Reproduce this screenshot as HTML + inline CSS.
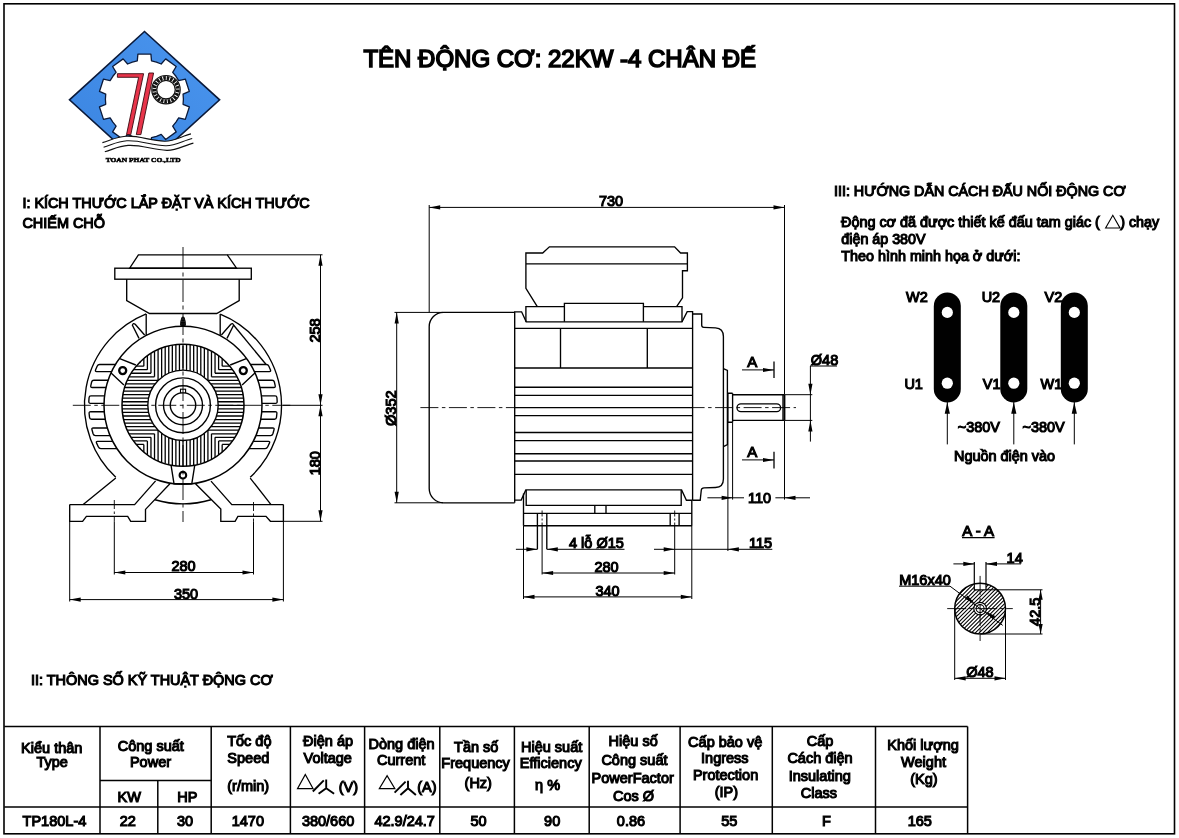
<!DOCTYPE html>
<html><head><meta charset="utf-8"><title>TP180L-4</title>
<style>
html,body{margin:0;padding:0;background:#fff;}
body{width:1179px;height:838px;overflow:hidden;font-family:"Liberation Sans",sans-serif;}
svg{display:block;will-change:transform;opacity:0.999}
svg text{font-family:"Liberation Sans",sans-serif;fill:#000;}
</style></head><body>
<svg width="1179" height="838" viewBox="0 0 1179 838" stroke="#000" fill="none" stroke-linecap="butt">
<rect x="0" y="0" width="1179" height="838" fill="#fff" stroke="none"/>
<rect x="4.0" y="3.8" width="1170.5" height="830" stroke-width="1.6" fill="none"/>
<text x="363.4" y="66.6" font-size="24" text-anchor="start" stroke="#000" stroke-width="1.6" >TÊN ĐỘNG CƠ: 22KW -4 CHÂN ĐẾ</text>
<text x="22.4" y="208" font-size="14.4" text-anchor="start" stroke="#000" stroke-width="1.1" >I: KÍCH THƯỚC LẮP ĐẶT VÀ KÍCH THƯỚC</text>
<text x="22.4" y="227.6" font-size="14.45" text-anchor="start" stroke="#000" stroke-width="1.1" >CHIẾM CHỖ</text>
<text x="31" y="685.4" font-size="14.45" text-anchor="start" stroke="#000" stroke-width="1.1" >II: THÔNG SỐ KỸ THUẬT ĐỘNG CƠ</text>
<text x="834.0" y="196.3" font-size="14.3" text-anchor="start" stroke="#000" stroke-width="1.1" >III: HƯỚNG DẪN CÁCH ĐẤU NỐI ĐỘNG CƠ</text>
<text x="841.0" y="227.4" font-size="14.4" text-anchor="start" stroke="#000" stroke-width="1.1" >Động cơ đã được thiết kế đấu tam giác (</text>
<text x="1120.2" y="227.4" font-size="14.3" text-anchor="start" stroke="#000" stroke-width="1.1" >) chạy</text>
<path d="M1105.6,228 L1112.8,215.3 L1120,228 Z" stroke-width="1.15" fill="none" />
<text x="841.3" y="243.5" font-size="14.3" text-anchor="start" stroke="#000" stroke-width="1.1" >điện áp 380V</text>
<text x="841.3" y="261.2" font-size="14.35" text-anchor="start" stroke="#000" stroke-width="1.1" >Theo hình minh họa ở dưới:</text>
<line x1="4.3" y1="726.5" x2="967.6" y2="726.5" stroke-width="1.5" />
<line x1="4.3" y1="807.1" x2="967.6" y2="807.1" stroke-width="1.5" />
<line x1="100" y1="780.4" x2="211.2" y2="780.4" stroke-width="1.5" />
<line x1="100" y1="726.5" x2="100" y2="833.8" stroke-width="1.5" />
<line x1="157.8" y1="780.4" x2="157.8" y2="833.8" stroke-width="1.5" />
<line x1="211.2" y1="726.5" x2="211.2" y2="833.8" stroke-width="1.5" />
<line x1="290.4" y1="726.5" x2="290.4" y2="833.8" stroke-width="1.5" />
<line x1="364.6" y1="726.5" x2="364.6" y2="833.8" stroke-width="1.5" />
<line x1="439.8" y1="726.5" x2="439.8" y2="833.8" stroke-width="1.5" />
<line x1="514.4" y1="726.5" x2="514.4" y2="833.8" stroke-width="1.5" />
<line x1="589.2" y1="726.5" x2="589.2" y2="833.8" stroke-width="1.5" />
<line x1="680.1" y1="726.5" x2="680.1" y2="833.8" stroke-width="1.5" />
<line x1="772.3" y1="726.5" x2="772.3" y2="833.8" stroke-width="1.5" />
<line x1="875.5" y1="726.5" x2="875.5" y2="833.8" stroke-width="1.5" />
<line x1="967.6" y1="726.5" x2="967.6" y2="833.8" stroke-width="1.5" />
<text x="51.75" y="752.7" font-size="14.5" text-anchor="middle" stroke="#000" stroke-width="1.1" >Kiểu thân</text>
<text x="52.15" y="767.2" font-size="14.5" text-anchor="middle" stroke="#000" stroke-width="1.1" >Type</text>
<text x="150.75" y="751.4" font-size="14.5" text-anchor="middle" stroke="#000" stroke-width="1.1" >Công suất</text>
<text x="150.5" y="767.2" font-size="14.5" text-anchor="middle" stroke="#000" stroke-width="1.1" >Power</text>
<text x="129.15" y="802" font-size="14.5" text-anchor="middle" stroke="#000" stroke-width="1.1" >KW</text>
<text x="187.3" y="802" font-size="14.5" text-anchor="middle" stroke="#000" stroke-width="1.1" >HP</text>
<text x="249.35" y="745.5" font-size="14.5" text-anchor="middle" stroke="#000" stroke-width="1.1" >Tốc độ</text>
<text x="248.3" y="763.3" font-size="14.5" text-anchor="middle" stroke="#000" stroke-width="1.1" >Speed</text>
<text x="248.2" y="791.3" font-size="14.5" text-anchor="middle" stroke="#000" stroke-width="1.1" >(r/min)</text>
<text x="328.1" y="746.3" font-size="14.5" text-anchor="middle" stroke="#000" stroke-width="1.1" >Điện áp</text>
<text x="327.75" y="763.1" font-size="14.5" text-anchor="middle" stroke="#000" stroke-width="1.1" >Voltage</text>
<text x="401.5" y="748.8" font-size="14.5" text-anchor="middle" stroke="#000" stroke-width="1.1" >Dòng điện</text>
<text x="401.15" y="764.9" font-size="14.5" text-anchor="middle" stroke="#000" stroke-width="1.1" >Current</text>
<text x="476.25" y="751.7" font-size="14.5" text-anchor="middle" stroke="#000" stroke-width="1.1" >Tần số</text>
<text x="475.6" y="768.4" font-size="14.5" text-anchor="middle" stroke="#000" stroke-width="1.1" >Frequency</text>
<text x="478.25" y="788" font-size="14.5" text-anchor="middle" stroke="#000" stroke-width="1.1" >(Hz)</text>
<text x="551.65" y="751.7" font-size="14.5" text-anchor="middle" stroke="#000" stroke-width="1.1" >Hiệu suất</text>
<text x="550.75" y="768.4" font-size="14.5" text-anchor="middle" stroke="#000" stroke-width="1.1" >Efficiency</text>
<text x="547.55" y="789.8" font-size="14.5" text-anchor="middle" stroke="#000" stroke-width="1.1" >η %</text>
<text x="633.2" y="746.3" font-size="14.5" text-anchor="middle" stroke="#000" stroke-width="1.1" >Hiệu số</text>
<text x="634.45" y="764.9" font-size="14.5" text-anchor="middle" stroke="#000" stroke-width="1.1" >Công suất</text>
<text x="632.7" y="783.4" font-size="14.5" text-anchor="middle" stroke="#000" stroke-width="1.1" >PowerFactor</text>
<text x="633.55" y="800.5" font-size="14.5" text-anchor="middle" stroke="#000" stroke-width="1.1" >Cos Ø</text>
<text x="725.2" y="746.7" font-size="14.5" text-anchor="middle" stroke="#000" stroke-width="1.1" >Cấp bảo vệ</text>
<text x="724.85" y="762.6" font-size="14.5" text-anchor="middle" stroke="#000" stroke-width="1.1" >Ingress</text>
<text x="725.6" y="779.9" font-size="14.5" text-anchor="middle" stroke="#000" stroke-width="1.1" >Protection</text>
<text x="726.35" y="797.2" font-size="14.5" text-anchor="middle" stroke="#000" stroke-width="1.1" >(IP)</text>
<text x="820.05" y="746.1" font-size="14.5" text-anchor="middle" stroke="#000" stroke-width="1.1" >Cấp</text>
<text x="820.05" y="763.4" font-size="14.5" text-anchor="middle" stroke="#000" stroke-width="1.1" >Cách điện</text>
<text x="819.75" y="780.7" font-size="14.5" text-anchor="middle" stroke="#000" stroke-width="1.1" >Insulating</text>
<text x="818.9" y="798" font-size="14.5" text-anchor="middle" stroke="#000" stroke-width="1.1" >Class</text>
<text x="923.1" y="750.2" font-size="14.5" text-anchor="middle" stroke="#000" stroke-width="1.1" >Khối lượng</text>
<text x="923.55" y="766.9" font-size="14.5" text-anchor="middle" stroke="#000" stroke-width="1.1" >Weight</text>
<text x="923.85" y="784.2" font-size="14.5" text-anchor="middle" stroke="#000" stroke-width="1.1" >(Kg)</text>
<path d="M297.6,788.5 L305.3,774.5 L313.0,788.5 Z" stroke-width="1.25" fill="none" />
<line x1="312.8" y1="791.5" x2="323.8" y2="780.4" stroke-width="1.9" />
<path d="M326.20000000000005,779.5999999999999 L326.20000000000005,788.5 M326.20000000000005,788.2 L318.6,793.8 M326.20000000000005,788.2 L334.1,793.8" stroke-width="1.9" fill="none" />
<text x="348.3" y="792.2" font-size="14.5" text-anchor="middle" stroke="#000" stroke-width="1.1" >(V)</text>
<path d="M379.4,788.5 L387.09999999999997,775.8 L394.79999999999995,788.5 Z" stroke-width="1.25" fill="none" />
<line x1="394.59999999999997" y1="792.7" x2="405.59999999999997" y2="781.6" stroke-width="1.9" />
<path d="M408.0,780.8 L408.0,788.5 M408.0,788.2 L400.4,795 M408.0,788.2 L415.9,795" stroke-width="1.9" fill="none" />
<text x="426.8" y="791.7" font-size="14.5" text-anchor="middle" stroke="#000" stroke-width="1.1" >(A)</text>
<text x="54.45" y="826.4" font-size="14.5" text-anchor="middle" stroke="#000" stroke-width="1.1" >TP180L-4</text>
<text x="127.85" y="826.4" font-size="14.5" text-anchor="middle" stroke="#000" stroke-width="1.1" >22</text>
<text x="185.1" y="826.4" font-size="14.5" text-anchor="middle" stroke="#000" stroke-width="1.1" >30</text>
<text x="247.85" y="826.4" font-size="14.5" text-anchor="middle" stroke="#000" stroke-width="1.1" >1470</text>
<text x="328.1" y="826.4" font-size="14.5" text-anchor="middle" stroke="#000" stroke-width="1.1" >380/660</text>
<text x="404.7" y="826.4" font-size="14.5" text-anchor="middle" stroke="#000" stroke-width="1.1" >42.9/24.7</text>
<text x="478.6" y="826.4" font-size="14.5" text-anchor="middle" stroke="#000" stroke-width="1.1" >50</text>
<text x="552.15" y="826.4" font-size="14.5" text-anchor="middle" stroke="#000" stroke-width="1.1" >90</text>
<text x="630.95" y="826.4" font-size="14.5" text-anchor="middle" stroke="#000" stroke-width="1.1" >0.86</text>
<text x="729.2" y="826.4" font-size="14.5" text-anchor="middle" stroke="#000" stroke-width="1.1" >55</text>
<text x="826.5" y="826.4" font-size="14.5" text-anchor="middle" stroke="#000" stroke-width="1.1" >F</text>
<text x="919.8" y="826.4" font-size="14.5" text-anchor="middle" stroke="#000" stroke-width="1.1" >165</text>
<path d="M138.4,254.8 L227.3,254.8 L236.6,268.2 L129.6,268.2 Z" stroke-width="1.35" fill="none" />
<rect x="114.8" y="268.2" width="136.5" height="11" stroke-width="1.35"/>
<path d="M126.7,279.2 L126.7,300.6 L149.5,313.5 L216.7,313.5 L239.2,300.6 L239.2,279.2" stroke-width="1.35" fill="none" />
<path d="M146.2,314 L146.2,335.39 M220.2,314 L220.2,335.39" stroke-width="1.35" fill="none" />
<path d="M146.20,313.93 A98.5,98.5 0 0 0 115.80,477.32" stroke-width="1.35" fill="none" />
<path d="M220.20,314.09 A98.5,98.5 0 0 1 250.20,477.32" stroke-width="1.35" fill="none" />
<path d="M155.00,499.74 A98.5,98.5 0 0 0 211.00,499.74" stroke-width="1.35" fill="none" />
<circle cx="183.0" cy="405.3" r="79.0" stroke-width="1.5" fill="none" />
<path d="M140.28,361.76 L140.28,362.58 M140.28,448.02 L140.28,448.84 M139.46,362.58 L140.28,362.58 M225.72,362.58 L226.54,362.58 M143.84,358.53 L143.84,366.14 M143.84,444.46 L143.84,452.07 M136.23,366.14 L143.84,366.14 M222.16,366.14 L229.77,366.14 M147.40,355.77 L147.40,369.70 M147.40,440.90 L147.40,454.83 M133.47,369.70 L147.40,369.70 M218.60,369.70 L232.53,369.70 M150.96,353.39 L150.96,373.26 M150.96,437.34 L150.96,457.21 M131.09,373.26 L150.96,373.26 M215.04,373.26 L234.91,373.26 M154.52,351.36 L154.52,376.82 M154.52,433.78 L154.52,459.24 M129.06,376.82 L154.52,376.82 M211.48,376.82 L236.94,376.82 M158.08,349.62 L158.08,380.38 M158.08,430.22 L158.08,460.98 M127.32,380.38 L158.08,380.38 M207.92,380.38 L238.68,380.38 M161.64,348.16 L161.64,377.32 M161.64,433.28 L161.64,462.44 M125.86,383.94 L155.02,383.94 M210.98,383.94 L240.14,383.94 M165.20,346.95 L165.20,374.93 M165.20,435.67 L165.20,463.65 M124.65,387.50 L152.63,387.50 M213.37,387.50 L241.35,387.50 M168.76,345.99 L168.76,373.11 M168.76,437.49 L168.76,464.61 M123.69,391.06 L150.81,391.06 M215.19,391.06 L242.31,391.06 M172.32,345.24 L172.32,371.76 M172.32,438.84 L172.32,465.36 M122.94,394.62 L149.46,394.62 M216.54,394.62 L243.06,394.62 M175.88,344.72 L175.88,370.83 M175.88,439.77 L175.88,465.88 M122.42,398.18 L148.53,398.18 M217.47,398.18 L243.58,398.18 M179.44,344.40 L179.44,370.28 M179.44,440.32 L179.44,466.20 M122.10,401.74 L147.98,401.74 M218.02,401.74 L243.90,401.74 M183.00,344.30 L183.00,370.10 M183.00,440.50 L183.00,466.30 M122.00,405.30 L147.80,405.30 M218.20,405.30 L244.00,405.30 M186.56,344.40 L186.56,370.28 M186.56,440.32 L186.56,466.20 M122.10,408.86 L147.98,408.86 M218.02,408.86 L243.90,408.86 M190.12,344.72 L190.12,370.83 M190.12,439.77 L190.12,465.88 M122.42,412.42 L148.53,412.42 M217.47,412.42 L243.58,412.42 M193.68,345.24 L193.68,371.76 M193.68,438.84 L193.68,465.36 M122.94,415.98 L149.46,415.98 M216.54,415.98 L243.06,415.98 M197.24,345.99 L197.24,373.11 M197.24,437.49 L197.24,464.61 M123.69,419.54 L150.81,419.54 M215.19,419.54 L242.31,419.54 M200.80,346.95 L200.80,374.93 M200.80,435.67 L200.80,463.65 M124.65,423.10 L152.63,423.10 M213.37,423.10 L241.35,423.10 M204.36,348.16 L204.36,377.32 M204.36,433.28 L204.36,462.44 M125.86,426.66 L155.02,426.66 M210.98,426.66 L240.14,426.66 M207.92,349.62 L207.92,380.38 M207.92,430.22 L207.92,460.98 M127.32,430.22 L158.08,430.22 M207.92,430.22 L238.68,430.22 M211.48,351.36 L211.48,376.82 M211.48,433.78 L211.48,459.24 M129.06,433.78 L154.52,433.78 M211.48,433.78 L236.94,433.78 M215.04,353.39 L215.04,373.26 M215.04,437.34 L215.04,457.21 M131.09,437.34 L150.96,437.34 M215.04,437.34 L234.91,437.34 M218.60,355.77 L218.60,369.70 M218.60,440.90 L218.60,454.83 M133.47,440.90 L147.40,440.90 M218.60,440.90 L232.53,440.90 M222.16,358.53 L222.16,366.14 M222.16,444.46 L222.16,452.07 M136.23,444.46 L143.84,444.46 M222.16,444.46 L229.77,444.46 M225.72,361.76 L225.72,362.58 M225.72,448.02 L225.72,448.84 M139.46,448.02 L140.28,448.02 M225.72,448.02 L226.54,448.02" stroke-width="1.3" fill="none" />
<circle cx="183.0" cy="405.3" r="61.0" stroke-width="1.5" fill="none" />
<circle cx="183.0" cy="405.3" r="35.2" stroke-width="1.4" fill="none" />
<circle cx="183.0" cy="405.3" r="27.4" stroke-width="1.4" fill="none" />
<circle cx="183.0" cy="405.3" r="19.5" stroke-width="1.4" fill="none" />
<circle cx="183.0" cy="405.3" r="12.7" stroke-width="1.4" fill="none" />
<rect x="180.5" y="389.2" width="5.1" height="3.6" stroke-width="1.1" fill="#fff"/>
<path d="M119.70,358.7 L135.80,365 M110.80,372.8 L123.90,384.9" stroke-width="1.35" fill="none" />
<circle cx="122.7" cy="370.6" r="3.5" stroke-width="2.3" fill="none" />
<path d="M144.60,335.0 L135.20,324.3 Q133.20,322.6 132.40,325.2 L139.00,338.4" stroke-width="1.35" fill="none" />
<path d="M115.35,364.5 L99.68,364.5 Q97.88,364.5 97.12,366.30 L95.61,369.80 Q94.86,371.6 96.66,371.6 L111.55,371.6" stroke-width="1.35" fill="none" />
<path d="M108.09,380.2 L93.86,380.2 Q92.06,380.2 91.64,382.00 L90.80,385.70 Q90.38,387.5 92.18,387.5 L106.03,387.5" stroke-width="1.35" fill="none" />
<path d="M104.56,395.9 L90.96,395.9 Q89.16,395.9 89.05,397.70 L88.83,401.50 Q88.72,403.3 90.52,403.3 L104.03,403.3" stroke-width="1.35" fill="none" />
<path d="M104.26,411.7 L90.72,411.7 Q88.92,411.7 89.12,413.50 L89.52,417.40 Q89.72,419.2 91.52,419.2 L105.23,419.2" stroke-width="1.35" fill="none" />
<path d="M107.33,428.0 L93.24,428.0 Q91.44,428.0 91.99,429.80 L93.09,433.80 Q93.65,435.6 95.45,435.6 L110.04,435.6" stroke-width="1.35" fill="none" />
<path d="M112.68,441.3 L97.56,441.3 Q95.76,441.3 96.60,443.10 L98.27,446.80 Q99.10,448.6 100.90,448.6 L116.92,448.6" stroke-width="1.35" fill="none" />
<path d="M246.30,358.7 L230.20,365 M255.20,372.8 L242.10,384.9" stroke-width="1.35" fill="none" />
<circle cx="243.3" cy="370.6" r="3.5" stroke-width="2.3" fill="none" />
<path d="M221.40,335.0 L230.80,324.3 Q232.80,322.6 233.60,325.2 L227.00,338.4" stroke-width="1.35" fill="none" />
<path d="M250.65,364.5 L266.32,364.5 Q268.12,364.5 268.88,366.30 L270.39,369.80 Q271.14,371.6 269.34,371.6 L254.45,371.6" stroke-width="1.35" fill="none" />
<path d="M257.91,380.2 L272.14,380.2 Q273.94,380.2 274.36,382.00 L275.20,385.70 Q275.62,387.5 273.82,387.5 L259.97,387.5" stroke-width="1.35" fill="none" />
<path d="M261.44,395.9 L275.04,395.9 Q276.84,395.9 276.95,397.70 L277.17,401.50 Q277.28,403.3 275.48,403.3 L261.97,403.3" stroke-width="1.35" fill="none" />
<path d="M261.74,411.7 L275.28,411.7 Q277.08,411.7 276.88,413.50 L276.48,417.40 Q276.28,419.2 274.48,419.2 L260.77,419.2" stroke-width="1.35" fill="none" />
<path d="M258.67,428.0 L272.76,428.0 Q274.56,428.0 274.01,429.80 L272.91,433.80 Q272.35,435.6 270.55,435.6 L255.96,435.6" stroke-width="1.35" fill="none" />
<path d="M253.32,441.3 L268.44,441.3 Q270.24,441.3 269.40,443.10 L267.73,446.80 Q266.90,448.6 265.10,448.6 L249.08,448.6" stroke-width="1.35" fill="none" />
<path d="M233.5,325 L265.9,364.3" stroke-width="1.35" fill="none" />
<path d="M180.6,325.4 L180.9,321 L182,317.2 L184,317.2 L185.1,321 L185.4,325.4 Z M180.8,322.6 L185.2,322.6 M180.7,324 L185.3,324 M181.3,320.4 L184.7,320.4" stroke-width="1.0" fill="#333" />
<path d="M171,464.9 L174,483.7 L191.8,483.7 L194.8,464.9" stroke-width="1.35" fill="none" />
<circle cx="182.9" cy="475.2" r="3.3" stroke-width="2.1" fill="none" />
<path d="M115.8,477.9 L83.2,504.6 M69.7,504.6 L134.6,504.6 L155.6,480.9 M169.9,483.8 L145.5,509.4 L145.5,521.3 L130.7,521.3 L127.7,516.3 L86.4,516.3 L82.6,521.3 L69.7,521.3 L69.7,504.6" stroke-width="1.35" fill="none" />
<path d="M250.2,478.1 L271,504.6 M283.4,504.6 L231.8,504.6 L211,481.1 M195.5,483.8 L220.8,509 L220.8,521.3 L235.1,521.3 L237.9,516.3 L266,516.3 L270.4,521.3 L283.4,521.3 L283.4,504.6" stroke-width="1.35" fill="none" />
<line x1="72.8" y1="405.3" x2="292" y2="405.3" stroke-width="0.9" stroke-dasharray="18 3.5 3.5 3.5"/>
<line x1="283" y1="405.3" x2="322.5" y2="405.3" stroke-width="1.0" />
<line x1="183" y1="247" x2="183" y2="522" stroke-width="0.9" stroke-dasharray="22 3.5 4 3.5"/>
<line x1="114.3" y1="500" x2="114.3" y2="521.3" stroke-width="0.9" stroke-dasharray="9 2.5 2.5 2.5"/>
<line x1="253.5" y1="502" x2="253.5" y2="521.3" stroke-width="0.9" stroke-dasharray="9 2.5 2.5 2.5"/>
<line x1="227.3" y1="254.8" x2="322.5" y2="254.8" stroke-width="1.0" />
<line x1="283.4" y1="521.3" x2="322.5" y2="521.3" stroke-width="1.0" />
<line x1="320.5" y1="254.8" x2="320.5" y2="521.3" stroke-width="1.0" />
<polygon points="320.50,254.80 322.60,265.80 318.40,265.80" fill="#000" stroke="none"/>
<polygon points="320.50,405.30 318.40,394.30 322.60,394.30" fill="#000" stroke="none"/>
<polygon points="320.50,405.30 322.60,416.30 318.40,416.30" fill="#000" stroke="none"/>
<polygon points="320.50,521.30 318.40,510.30 322.60,510.30" fill="#000" stroke="none"/>
<text transform="translate(319.6,330.5) rotate(-90)" font-size="14.5" text-anchor="middle" stroke="#000" stroke-width="1.1">258</text>
<text transform="translate(319.6,463.2) rotate(-90)" font-size="14.5" text-anchor="middle" stroke="#000" stroke-width="1.1">180</text>
<line x1="114.3" y1="521.3" x2="114.3" y2="574.5" stroke-width="1.0" />
<line x1="253.5" y1="521.3" x2="253.5" y2="574.5" stroke-width="1.0" />
<line x1="114.3" y1="572.5" x2="253.5" y2="572.5" stroke-width="1.0" />
<polygon points="114.30,572.50 125.30,570.40 125.30,574.60" fill="#000" stroke="none"/>
<polygon points="253.50,572.50 242.50,574.60 242.50,570.40" fill="#000" stroke="none"/>
<text x="183.6" y="571.2" font-size="14.5" text-anchor="middle" stroke="#000" stroke-width="1.1" >280</text>
<line x1="69.7" y1="521.3" x2="69.7" y2="601.5" stroke-width="1.0" />
<line x1="283.4" y1="521.3" x2="283.4" y2="601.5" stroke-width="1.0" />
<line x1="69.7" y1="599.6" x2="283.4" y2="599.6" stroke-width="1.0" />
<polygon points="69.70,599.60 80.70,597.50 80.70,601.70" fill="#000" stroke="none"/>
<polygon points="283.40,599.60 272.40,601.70 272.40,597.50" fill="#000" stroke="none"/>
<text x="186" y="598.6" font-size="14.5" text-anchor="middle" stroke="#000" stroke-width="1.1" >350</text>
<path d="M514.7,312.4 L443.5,312.4 A14.3,14.3 0 0 0 429.2,326.7 L429.2,488.5 A14.3,14.3 0 0 0 443.5,502.8 L514.7,502.8" stroke-width="1.35" fill="none" />
<path d="M514.7,502.8 L514.7,311.8 L521.6,311.8 L526.2,321.8 L682,321.8 L687.2,311.6 L692.6,311.6 L692.6,500.2" stroke-width="1.35" fill="none" />
<line x1="514.7" y1="328.4" x2="692.6" y2="328.4" stroke-width="1.35" />
<line x1="514.7" y1="368" x2="692.6" y2="368" stroke-width="1.35" />
<line x1="514.7" y1="387.2" x2="692.6" y2="387.2" stroke-width="1.35" />
<line x1="514.7" y1="395.4" x2="692.6" y2="395.4" stroke-width="1.35" />
<line x1="514.7" y1="407.6" x2="692.6" y2="407.6" stroke-width="1.35" />
<line x1="514.7" y1="415.6" x2="692.6" y2="415.6" stroke-width="1.35" />
<line x1="514.7" y1="432.5" x2="692.6" y2="432.5" stroke-width="1.35" />
<line x1="514.7" y1="440.6" x2="692.6" y2="440.6" stroke-width="1.35" />
<line x1="514.7" y1="453.7" x2="692.6" y2="453.7" stroke-width="1.35" />
<line x1="514.7" y1="461" x2="692.6" y2="461" stroke-width="1.35" />
<line x1="514.7" y1="474.3" x2="692.6" y2="474.3" stroke-width="1.35" />
<line x1="560.5" y1="328.4" x2="560.5" y2="368" stroke-width="1.35" />
<line x1="647.3" y1="328.4" x2="647.3" y2="368" stroke-width="1.35" />
<path d="M514.7,500.1 L521.2,500.1 L525.8,489.9 L681.6,489.9 L686.4,500.2 L692.6,500.2" stroke-width="1.35" fill="none" />
<path d="M526.2,489.9 L526.2,505.4 L681.2,505.4 L681.2,489.9" stroke-width="1.35" fill="none" />
<path d="M523.5,493.6 L523.5,525.7 M523.5,513.3 L692,513.3 M523.5,525.7 L692,525.7 M691.8,500.2 L691.8,525.7" stroke-width="1.35" fill="none" />
<path d="M594.8,505.4 L594.8,513.3 M606,505.4 L606,513.3" stroke-width="1.35" fill="none" />
<path d="M525.9,321.8 L525.9,306.6 L564.4,306.6 M643.4,306.6 L682,306.6 L682,321.8 M564.4,321.8 L564.4,303.4 L643.4,303.4 L643.4,321.8" stroke-width="1.35" fill="none" />
<path d="M537.3,306.6 L525.9,288.3 L525.9,253 L542.7,253 L549.4,246.8 L674.6,246.8 L680.6,253 L687.4,253 L687.4,270.7 L682.5,270.7 L682.5,297.9 L676.6,306.6 M525.9,263.8 L687.4,263.8" stroke-width="1.35" fill="none" />
<path d="M692.6,314 L701.7,314 L701.7,325.3 Q701.7,327.2 703.8,327.3 L715.5,327.9 Q723.4,328.4 723.4,336.5 L723.4,479 Q723.4,487.3 715.5,487.5 L704,487.9 Q701.6,488 701.3,490 L700.2,500.2 L692.6,500.2" stroke-width="1.35" fill="none" />
<path d="M723.4,368.6 L727.4,370.4 L727.4,444.6 L723.4,446.6" stroke-width="1.35" fill="none" />
<path d="M727.9,393.2 L732.6,393.2 M727.9,393.2 L727.9,422.2 M732.6,393.2 L732.6,422.2 M727.9,422.2 L732.6,422.2" stroke-width="1.35" fill="none" />
<path d="M732.6,394.7 L784.4,394.7 M732.6,420.4 L784.4,420.4 M783.0,394.7 L783.0,420.4" stroke-width="1.35" fill="none" />
<line x1="784.5" y1="394.7" x2="784.5" y2="420.4" stroke-width="1.8" />
<rect x="737" y="403.8" width="43.6" height="7.8" rx="3.9" ry="3.9" stroke-width="1.35"/>
<line x1="420.4" y1="407.6" x2="514.7" y2="407.6" stroke-width="0.9" stroke-dasharray="18 3.5 3.5 3.5"/>
<line x1="692.6" y1="407.6" x2="796" y2="407.6" stroke-width="0.9" stroke-dasharray="18 3.5 3.5 3.5" stroke-dashoffset="6"/>
<line x1="537.4" y1="513.3" x2="537.4" y2="549.3" stroke-width="1.35" />
<line x1="546.8" y1="513.3" x2="546.8" y2="549.3" stroke-width="1.35" />
<line x1="542.1" y1="510.5" x2="542.1" y2="525.7" stroke-width="0.9" stroke-dasharray="6 2 2 2"/>
<line x1="542.1" y1="525.7" x2="542.1" y2="574.5" stroke-width="1.0" />
<line x1="670.2" y1="513.3" x2="670.2" y2="525.7" stroke-width="1.35" />
<line x1="679.1" y1="513.3" x2="679.1" y2="525.7" stroke-width="1.35" />
<line x1="674.7" y1="510.5" x2="674.7" y2="525.7" stroke-width="0.9" stroke-dasharray="6 2 2 2"/>
<line x1="674.7" y1="525.7" x2="674.7" y2="574.5" stroke-width="1.0" />
<line x1="429.2" y1="205" x2="429.2" y2="312.4" stroke-width="1.0" />
<line x1="784.5" y1="205" x2="784.5" y2="394.7" stroke-width="1.0" />
<line x1="429.2" y1="207.4" x2="784.5" y2="207.4" stroke-width="1.0" />
<polygon points="429.20,207.40 440.20,205.30 440.20,209.50" fill="#000" stroke="none"/>
<polygon points="784.50,207.40 773.50,209.50 773.50,205.30" fill="#000" stroke="none"/>
<text x="611" y="206.3" font-size="14.5" text-anchor="middle" stroke="#000" stroke-width="1.1" >730</text>
<line x1="394.5" y1="312.4" x2="443" y2="312.4" stroke-width="1.0" />
<line x1="394.5" y1="502.8" x2="443" y2="502.8" stroke-width="1.0" />
<line x1="396.7" y1="312.4" x2="396.7" y2="502.8" stroke-width="1.0" />
<polygon points="396.70,312.40 398.80,323.40 394.60,323.40" fill="#000" stroke="none"/>
<polygon points="396.70,502.80 394.60,491.80 398.80,491.80" fill="#000" stroke="none"/>
<text transform="translate(396.2,408.2) rotate(-90)" font-size="14.5" text-anchor="middle" stroke="#000" stroke-width="1.1">Ø352</text>
<line x1="515.9" y1="549.3" x2="537.4" y2="549.3" stroke-width="1.0" />
<polygon points="537.40,549.30 526.40,551.40 526.40,547.20" fill="#000" stroke="none"/>
<line x1="546.8" y1="549.3" x2="624.5" y2="549.3" stroke-width="1.0" />
<polygon points="546.80,549.30 557.80,547.20 557.80,551.40" fill="#000" stroke="none"/>
<text x="569" y="548" font-size="14.5" text-anchor="start" stroke="#000" stroke-width="1.1" >4 lỗ Ø15</text>
<line x1="542.1" y1="573" x2="674.7" y2="573" stroke-width="1.0" />
<polygon points="542.10,573.00 553.10,570.90 553.10,575.10" fill="#000" stroke="none"/>
<polygon points="674.70,573.00 663.70,575.10 663.70,570.90" fill="#000" stroke="none"/>
<text x="606.6" y="572.2" font-size="14.5" text-anchor="middle" stroke="#000" stroke-width="1.1" >280</text>
<line x1="523.5" y1="525.7" x2="523.5" y2="599" stroke-width="1.0" />
<line x1="691.8" y1="525.7" x2="691.8" y2="599" stroke-width="1.0" />
<line x1="523.5" y1="596.9" x2="691.8" y2="596.9" stroke-width="1.0" />
<polygon points="523.50,596.90 534.50,594.80 534.50,599.00" fill="#000" stroke="none"/>
<polygon points="691.80,596.90 680.80,599.00 680.80,594.80" fill="#000" stroke="none"/>
<text x="607.5" y="596" font-size="14.5" text-anchor="middle" stroke="#000" stroke-width="1.1" >340</text>
<line x1="654" y1="549.3" x2="674.7" y2="549.3" stroke-width="1.0" />
<polygon points="674.70,549.30 663.70,551.40 663.70,547.20" fill="#000" stroke="none"/>
<line x1="674.7" y1="549.3" x2="772.3" y2="549.3" stroke-width="1.0" />
<polygon points="727.90,549.30 738.90,547.20 738.90,551.40" fill="#000" stroke="none"/>
<line x1="727.9" y1="422.2" x2="727.9" y2="551" stroke-width="1.0" />
<text x="749" y="548" font-size="14.5" text-anchor="start" stroke="#000" stroke-width="1.1" >115</text>
<line x1="732.6" y1="422.2" x2="732.6" y2="499.6" stroke-width="1.0" />
<line x1="784.5" y1="420.4" x2="784.5" y2="499.6" stroke-width="1.0" />
<line x1="707.4" y1="497.8" x2="744" y2="497.8" stroke-width="1.0" />
<polygon points="732.60,497.80 721.60,499.90 721.60,495.70" fill="#000" stroke="none"/>
<line x1="775.4" y1="497.8" x2="810" y2="497.8" stroke-width="1.0" />
<polygon points="784.50,497.80 795.50,495.70 795.50,499.90" fill="#000" stroke="none"/>
<text x="748" y="503" font-size="14.5" text-anchor="start" stroke="#000" stroke-width="1.1" >110</text>
<line x1="784.5" y1="394.7" x2="812.3" y2="394.7" stroke-width="1.0" />
<line x1="784.5" y1="420.4" x2="812.3" y2="420.4" stroke-width="1.0" />
<line x1="810.4" y1="366" x2="810.4" y2="441.6" stroke-width="1.0" />
<polygon points="810.40,394.70 808.30,383.70 812.50,383.70" fill="#000" stroke="none"/>
<polygon points="810.40,420.40 812.50,431.40 808.30,431.40" fill="#000" stroke="none"/>
<line x1="810.4" y1="366" x2="837" y2="366" stroke-width="1.0" />
<text x="810.8" y="364.6" font-size="14.5" text-anchor="start" stroke="#000" stroke-width="1.1" >Ø48</text>
<text x="747.3" y="366.8" font-size="15" text-anchor="start" stroke="#000" stroke-width="1.1" >A</text>
<line x1="742" y1="369.9" x2="774" y2="369.9" stroke-width="1.0" />
<polygon points="774.00,369.90 763.00,371.90 763.00,367.90" fill="#000" stroke="none"/>
<line x1="774" y1="361.4" x2="774" y2="378.1" stroke-width="1.3" />
<text x="747.3" y="456.8" font-size="15" text-anchor="start" stroke="#000" stroke-width="1.1" >A</text>
<line x1="742" y1="459.9" x2="774" y2="459.9" stroke-width="1.0" />
<polygon points="774.00,459.90 763.00,461.90 763.00,457.90" fill="#000" stroke="none"/>
<line x1="774" y1="451.7" x2="774" y2="468.6" stroke-width="1.3" />
<rect x="933.8" y="292.5" width="27" height="110" rx="13.5" ry="13.5" fill="#000" stroke="none"/>
<circle cx="947.3" cy="312.4" r="5.6" fill="#fff" stroke="none"/>
<circle cx="947.3" cy="383.2" r="5.6" fill="#fff" stroke="none"/>
<line x1="947.3" y1="402" x2="947.3" y2="444.4" stroke-width="1.0" />
<polygon points="947.30,402.30 949.90,413.80 944.70,413.80" fill="#000" stroke="none"/>
<rect x="1000.3" y="292.5" width="27" height="110" rx="13.5" ry="13.5" fill="#000" stroke="none"/>
<circle cx="1013.8" cy="312.4" r="5.6" fill="#fff" stroke="none"/>
<circle cx="1013.8" cy="383.2" r="5.6" fill="#fff" stroke="none"/>
<line x1="1013.8" y1="402" x2="1013.8" y2="444.4" stroke-width="1.0" />
<polygon points="1013.80,402.30 1016.40,413.80 1011.20,413.80" fill="#000" stroke="none"/>
<rect x="1060.8" y="292.5" width="27" height="110" rx="13.5" ry="13.5" fill="#000" stroke="none"/>
<circle cx="1074.3" cy="312.4" r="5.6" fill="#fff" stroke="none"/>
<circle cx="1074.3" cy="383.2" r="5.6" fill="#fff" stroke="none"/>
<line x1="1074.3" y1="402" x2="1074.3" y2="444.4" stroke-width="1.0" />
<polygon points="1074.30,402.30 1076.90,413.80 1071.70,413.80" fill="#000" stroke="none"/>
<text x="906.0" y="302.2" font-size="14.45" text-anchor="start" stroke="#000" stroke-width="1.1" >W2</text>
<text x="981.7" y="302.2" font-size="14.45" text-anchor="start" stroke="#000" stroke-width="1.1" >U2</text>
<text x="1044.5" y="302.2" font-size="14.45" text-anchor="start" stroke="#000" stroke-width="1.1" >V2</text>
<text x="904.4" y="389.0" font-size="14.45" text-anchor="start" stroke="#000" stroke-width="1.1" >U1</text>
<text x="982.8" y="389.0" font-size="14.45" text-anchor="start" stroke="#000" stroke-width="1.1" >V1</text>
<text x="1040.6" y="389.0" font-size="14.45" text-anchor="start" stroke="#000" stroke-width="1.1" >W1</text>
<text x="957.8" y="431.5" font-size="14.45" text-anchor="start" stroke="#000" stroke-width="1.1" >~380V</text>
<text x="1022.5" y="431.5" font-size="14.45" text-anchor="start" stroke="#000" stroke-width="1.1" >~380V</text>
<text x="954.0" y="461.4" font-size="14.45" text-anchor="start" stroke="#000" stroke-width="1.1" >Nguồn điện vào</text>
<text x="978.2" y="535.8" font-size="15" text-anchor="middle" stroke="#000" stroke-width="1.1" >A - A</text>
<line x1="962" y1="537.6" x2="994.6" y2="537.6" stroke-width="1.1" />
<defs><clipPath id="cpA"><path d="M954.7,608.6 A25.4,25.4 0 1 1 1005.5,608.6 A25.4,25.4 0 1 1 954.7,608.6 Z M974.3,584 L986,584 L986,589.8 L974.3,589.8 Z M973.8000000000001,608.6 A6.3,6.3 0 1 0 986.4,608.6 A6.3,6.3 0 1 0 973.8000000000001,608.6 Z" clip-rule="evenodd"/></clipPath></defs>
<path d="M794.10,638.60 L854.10,578.60 M798.00,638.60 L858.00,578.60 M801.90,638.60 L861.90,578.60 M805.80,638.60 L865.80,578.60 M809.70,638.60 L869.70,578.60 M813.60,638.60 L873.60,578.60 M817.50,638.60 L877.50,578.60 M821.40,638.60 L881.40,578.60 M825.30,638.60 L885.30,578.60 M829.20,638.60 L889.20,578.60 M833.10,638.60 L893.10,578.60 M837.00,638.60 L897.00,578.60 M840.90,638.60 L900.90,578.60 M844.80,638.60 L904.80,578.60 M848.70,638.60 L908.70,578.60 M852.60,638.60 L912.60,578.60 M856.50,638.60 L916.50,578.60 M860.40,638.60 L920.40,578.60 M864.30,638.60 L924.30,578.60 M868.20,638.60 L928.20,578.60 M872.10,638.60 L932.10,578.60 M876.00,638.60 L936.00,578.60 M879.90,638.60 L939.90,578.60 M883.80,638.60 L943.80,578.60 M887.70,638.60 L947.70,578.60 M891.60,638.60 L951.60,578.60 M895.50,638.60 L955.50,578.60 M899.40,638.60 L959.40,578.60 M903.30,638.60 L963.30,578.60 M907.20,638.60 L967.20,578.60 M911.10,638.60 L971.10,578.60 M915.00,638.60 L975.00,578.60 M918.90,638.60 L978.90,578.60 M922.80,638.60 L982.80,578.60 M926.70,638.60 L986.70,578.60 M930.60,638.60 L990.60,578.60 M934.50,638.60 L994.50,578.60 M938.40,638.60 L998.40,578.60 M942.30,638.60 L1002.30,578.60 M946.20,638.60 L1006.20,578.60 M950.10,638.60 L1010.10,578.60 M954.00,638.60 L1014.00,578.60 M957.90,638.60 L1017.90,578.60 M961.80,638.60 L1021.80,578.60 M965.70,638.60 L1025.70,578.60 M969.60,638.60 L1029.60,578.60 M973.50,638.60 L1033.50,578.60 M977.40,638.60 L1037.40,578.60 M981.30,638.60 L1041.30,578.60 M985.20,638.60 L1045.20,578.60 M989.10,638.60 L1049.10,578.60 M993.00,638.60 L1053.00,578.60 M996.90,638.60 L1056.90,578.60 M1000.80,638.60 L1060.80,578.60 M1004.70,638.60 L1064.70,578.60 M1008.60,638.60 L1068.60,578.60 M1012.50,638.60 L1072.50,578.60 M1016.40,638.60 L1076.40,578.60 M1020.30,638.60 L1080.30,578.60 M1024.20,638.60 L1084.20,578.60 M1028.10,638.60 L1088.10,578.60 M1032.00,638.60 L1092.00,578.60 M1035.90,638.60 L1095.90,578.60 M1039.80,638.60 L1099.80,578.60 M1043.70,638.60 L1103.70,578.60 M1047.60,638.60 L1107.60,578.60 M1051.50,638.60 L1111.50,578.60 M1055.40,638.60 L1115.40,578.60 M1059.30,638.60 L1119.30,578.60 M1063.20,638.60 L1123.20,578.60 M1067.10,638.60 L1127.10,578.60 M1071.00,638.60 L1131.00,578.60 M1074.90,638.60 L1134.90,578.60 M1078.80,638.60 L1138.80,578.60 M1082.70,638.60 L1142.70,578.60 M1086.60,638.60 L1146.60,578.60 M1090.50,638.60 L1150.50,578.60 M1094.40,638.60 L1154.40,578.60 M1098.30,638.60 L1158.30,578.60 M1102.20,638.60 L1162.20,578.60" stroke-width="1.05" clip-path="url(#cpA)"/>
<circle cx="980.1" cy="608.6" r="25.4" stroke-width="1.5" fill="none" />
<path d="M974.3,562 L974.3,589.8 L986,589.8 L986,562" stroke-width="1.2" fill="none" />
<circle cx="980.1" cy="608.6" r="6.3" stroke-width="1.2" fill="none" />
<circle cx="980.1" cy="608.6" r="4.0" stroke-width="1.1" fill="none" />
<line x1="947.2" y1="608.6" x2="1012.8" y2="608.6" stroke-width="0.9" stroke-dasharray="22 3 3 3" stroke-dashoffset="3"/>
<line x1="980.1" y1="575.9" x2="980.1" y2="641" stroke-width="0.9" stroke-dasharray="22 3 3 3" stroke-dashoffset="3"/>
<line x1="953.4" y1="563.9" x2="974.3" y2="563.9" stroke-width="1.0" />
<polygon points="974.30,563.90 963.30,566.00 963.30,561.80" fill="#000" stroke="none"/>
<line x1="986" y1="563.9" x2="1021" y2="563.9" stroke-width="1.0" />
<polygon points="986.00,563.90 997.00,561.80 997.00,566.00" fill="#000" stroke="none"/>
<text x="1006.6" y="563.2" font-size="14.5" text-anchor="start" stroke="#000" stroke-width="1.1" >14</text>
<text x="899.2" y="584.8" font-size="14.5" text-anchor="start" stroke="#000" stroke-width="1.1" >M16x40</text>
<line x1="899" y1="586.2" x2="950" y2="586.2" stroke-width="1.0" />
<line x1="950" y1="586.2" x2="1002.7" y2="625.4" stroke-width="1.0" />
<polygon points="975.05,603.64 965.03,598.68 967.41,595.47" fill="#000" stroke="none"/>
<polygon points="985.15,611.16 995.17,616.12 992.79,619.33" fill="#000" stroke="none"/>
<line x1="986" y1="589.8" x2="1042.5" y2="589.8" stroke-width="1.0" />
<line x1="980.1" y1="634" x2="1042.5" y2="634" stroke-width="1.0" />
<line x1="1040.6" y1="589.8" x2="1040.6" y2="634" stroke-width="1.0" />
<polygon points="1040.60,589.80 1042.70,599.80 1038.50,599.80" fill="#000" stroke="none"/>
<polygon points="1040.60,634.00 1038.50,624.00 1042.70,624.00" fill="#000" stroke="none"/>
<text transform="translate(1039.6,611.8) rotate(-90)" font-size="14.5" text-anchor="middle" stroke="#000" stroke-width="1.1">42.5</text>
<line x1="954.7" y1="608.6" x2="954.7" y2="680" stroke-width="1.0" />
<line x1="1005.5" y1="608.6" x2="1005.5" y2="680" stroke-width="1.0" />
<line x1="954.7" y1="678.3" x2="1005.5" y2="678.3" stroke-width="1.0" />
<polygon points="954.70,678.30 965.70,676.20 965.70,680.40" fill="#000" stroke="none"/>
<polygon points="1005.50,678.30 994.50,680.40 994.50,676.20" fill="#000" stroke="none"/>
<text x="980" y="676.8" font-size="14.5" text-anchor="middle" stroke="#000" stroke-width="1.1" >Ø48</text>
<defs><linearGradient id="lgB" x1="0" y1="1" x2="1" y2="0"><stop offset="0" stop-color="#3a84e0"/><stop offset="1" stop-color="#4a95ee"/></linearGradient><clipPath id="cpL"><path d="M60,20 L230,20 L230,141.5 L191,133.9 C182,136 174,141.5 164.5,141.2 C150,140.8 140,135.5 125.7,136.2 C116,136.8 110,140.5 102.4,142.6 L60,142.6 Z"/></clipPath></defs>
<g clip-path="url(#cpL)">
<path d="M144.5,31.5 L219.6,99.8 L144.5,168.1 L69.5,99.8 Z" fill="url(#lgB)" stroke="#0b1a3a" stroke-width="1.6" stroke-linejoin="miter"/>
<path d="M132.35,62.11 L137.29,60.85 L137.90,54.07 L150.90,54.07 L151.51,60.85 L156.45,62.11 L161.19,64.00 L165.67,58.86 L176.19,66.51 L172.69,72.35 L175.95,76.28 L178.67,80.59 L185.31,79.07 L189.33,91.44 L183.07,94.11 L183.40,99.20 L183.07,104.29 L189.33,106.96 L185.31,119.33 L178.67,117.81 L175.95,122.12 L172.69,126.05 L176.19,131.89 L165.67,139.54 L161.19,134.40 L156.45,136.29 L151.51,137.55 L150.90,144.33 L137.90,144.33 L137.29,137.55 L132.35,136.29 L127.61,134.40 L123.13,139.54 L112.61,131.89 L116.11,126.05 L112.85,122.12 L110.13,117.81 L103.49,119.33 L99.47,106.96 L105.73,104.29 L105.40,99.20 L105.73,94.11 L99.47,91.44 L103.49,79.07 L110.13,80.59 L112.85,76.28 L116.11,72.35 L112.61,66.51 L123.13,58.86 L127.61,64.00 Z" fill="#fff" stroke="#0b1a3a" stroke-width="1.3" stroke-linejoin="round"/>
</g>
<path d="M117.4,73.7 L143.6,73.7 L130.8,134.6 L126.5,134.6 L138.6,77.3 L117.4,77.3 Z" fill="#e8344a" stroke="#3a0a10" stroke-width="0.9"/>
<path d="M148.9,73.0 L153.6,73.0 L140.9,134.6 L136.3,134.6 Z" fill="#e8344a" stroke="#3a0a10" stroke-width="0.9"/>
<circle cx="166.0" cy="89.7" r="14.2" fill="#fff" stroke="#111" stroke-width="1.2"/>
<circle cx="166.0" cy="89.7" r="11.8" fill="none" stroke="#111" stroke-width="3.8" stroke-dasharray="2.6 0.9"/>
<circle cx="166.0" cy="89.7" r="9.3" fill="#fff" stroke="#111" stroke-width="1.3"/>
<path d="M102.4,142.6 C110.0,140.5 116.0,136.8 125.7,136.2 C140.0,135.5 150.0,140.8 164.5,141.2 C174.0,141.5 182.0,136 191.0,133.9" stroke="#111" stroke-width="1.1" fill="none"/>
<path d="M103.60000000000001,147.2 C111.2,145.1 117.2,141.4 126.9,140.79999999999998 C141.2,140.1 151.2,145.4 165.7,145.79999999999998 C175.2,146.1 183.2,140.6 192.2,138.5" stroke="#111" stroke-width="1.1" fill="none"/>
<path d="M104.80000000000001,151.79999999999998 C112.4,149.7 118.4,146.0 128.1,145.39999999999998 C142.4,144.7 152.4,150.0 166.9,150.39999999999998 C176.4,150.7 184.4,145.2 193.4,143.1" stroke="#111" stroke-width="1.1" fill="none"/>
<text x="143.2" y="161.6" font-size="6.6" font-weight="bold" text-anchor="middle" textLength="75" lengthAdjust="spacingAndGlyphs" stroke="#000" stroke-width="0.5" style="font-family:'Liberation Serif',serif">TOAN PHAT CO.,LTD</text>
</svg>
</body></html>
